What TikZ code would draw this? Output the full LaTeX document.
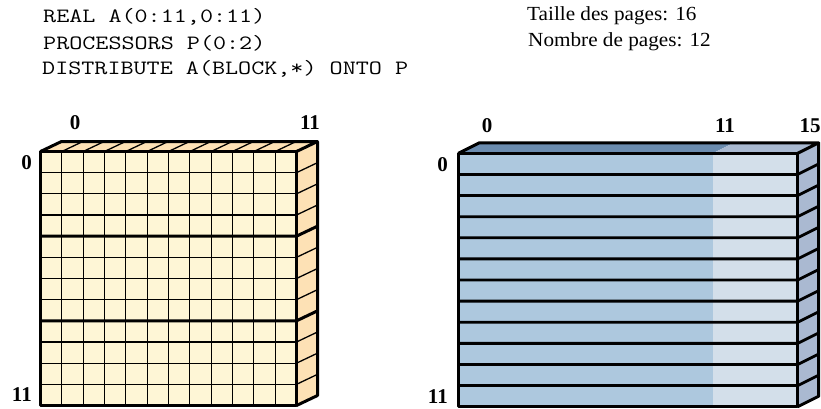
\documentclass[tikz,border=0pt]{standalone}
\usepackage{fontspec}
\setmainfont{Liberation Serif}
\newfontfamily\monof[FakeStretch=1.25]{Latin Modern Mono}
\newfontfamily\serff[FakeStretch=1.06]{Liberation Serif}
\definecolor{cream}{HTML}{FEF6D6}
\definecolor{peach}{HTML}{FDE1B5}
\definecolor{bluedk}{HTML}{ADC8DE}
\definecolor{bluelt}{HTML}{D3DFEA}
\definecolor{topdk}{HTML}{6B8CAF}
\definecolor{toplt}{HTML}{A9B9D1}
\definecolor{sidebl}{HTML}{AAB9D1}
\tikzset{
  outline/.style={line width=3pt, line join=round},
  gridln/.style={line width=1.3pt},
  stripeln/.style={line width=2.8pt},
  codetxt/.style={anchor=west, inner sep=0pt, font=\monof\fontsize{20.3}{22}\selectfont},
  infotxt/.style={anchor=west, inner sep=0pt, font=\serff\fontsize{20}{24}\selectfont},
  idx/.style={inner sep=0pt, font=\bfseries\fontsize{21}{24}\selectfont},
}
\begin{document}
\begin{tikzpicture}[x=1pt,y=-1pt]
\useasboundingbox (0,0) rectangle (821,409);
% ---------- text ----------
\node[codetxt] (c1) at (43,17) {REAL A(0:11,0:11)};
\node[codetxt] (c2) at (43,43) {PROCESSORS P(0:2)};
\node[codetxt] (c3) at (42,69) {DISTRIBUTE A(BLOCK,*) ONTO P};
\node[infotxt] (t1) at (527,16) {Taille des pages: 16};
\node[infotxt] (t2) at (528,42) {Nombre de pages: 12};
% ---------- left cube ----------
\def\Lx{40.5}\def\Rx{296.5}\def\Ty{151.5}\def\By{405.5}
\def\dx{21}\def\dy{-10}
\def\cw{21.3333}\def\ch{21.1667}
\fill[peach] (\Lx,\Ty) -- ++(\dx,\dy) -- (\Rx+\dx,\Ty+\dy) -- (\Rx,\Ty) -- cycle;
\fill[peach] (\Rx,\Ty) -- ++(\dx,\dy) -- (\Rx+\dx,\By+\dy) -- (\Rx,\By) -- cycle;
\fill[cream] (\Lx,\Ty) rectangle (\Rx,\By);
\foreach \i in {1,...,11}{
  \draw[gridln] (\Lx+\i*\cw,\Ty) -- (\Lx+\i*\cw,\By);
  \draw[gridln] (\Lx,\Ty+\i*\ch) -- (\Rx,\Ty+\i*\ch);
  \draw[gridln] (\Lx+\i*\cw,\Ty) -- ++(\dx,\dy);
  \draw[gridln] (\Rx,\Ty+\i*\ch) -- ++(\dx,\dy);
}
\foreach \j in {4,8}{
  \draw[outline] (\Lx,\Ty+\j*\ch) -- (\Rx,\Ty+\j*\ch) -- ++(\dx,\dy);
}
\draw[outline] (\Lx,\Ty) rectangle (\Rx,\By);
\draw[outline] (\Lx,\Ty) -- ++(\dx,\dy) -- (\Rx+\dx,\Ty+\dy) -- (\Rx,\Ty);
\draw[outline] (\Rx+\dx,\Ty+\dy) -- (\Rx+\dx,\By+\dy) -- (\Rx,\By);
\node[idx] (lc0) at (75,123) {0};
\node[idx] (lc11) at (310,123) {11};
\node[idx, anchor=east] (lr0) at (32,163) {0};
\node[idx, anchor=east] (lr11) at (32,395) {11};
% ---------- right cube ----------
\def\LX{458.3}\def\RX{797.7}\def\TY{153.3}\def\BY{406.7}
\def\DX{21}\def\DY{-10.5}
\def\CW{21.2125}\def\CH{21.1167}
\pgfmathsetmacro\XD{\LX+12*\CW}
\fill[topdk] (\LX,\TY) -- ++(\DX,\DY) -- (\XD+\DX,\TY+\DY) -- (\XD,\TY) -- cycle;
\fill[toplt] (\XD,\TY) -- ++(\DX,\DY) -- (\RX+\DX,\TY+\DY) -- (\RX,\TY) -- cycle;
\fill[sidebl] (\RX,\TY) -- ++(\DX,\DY) -- (\RX+\DX,\BY+\DY) -- (\RX,\BY) -- cycle;
\fill[bluedk] (\LX,\TY) rectangle (\XD,\BY);
\fill[bluelt] (\XD,\TY) rectangle (\RX,\BY);
\foreach \i in {1,...,11}{
  \draw[stripeln] (\LX,\TY+\i*\CH) -- (\RX,\TY+\i*\CH) -- ++(\DX,\DY);
}
\draw[outline] (\LX,\TY) rectangle (\RX,\BY);
\draw[outline] (\LX,\TY) -- ++(\DX,\DY) -- (\RX+\DX,\TY+\DY) -- (\RX,\TY);
\draw[outline] (\RX+\DX,\TY+\DY) -- (\RX+\DX,\BY+\DY) -- (\RX,\BY);
\node[idx] (rc0) at (487,126) {0};
\node[idx] (rc11) at (725,126) {11};
\node[idx] (rc15) at (810,126) {15};
\node[idx, anchor=east] (rr0) at (448,165) {0};
\node[idx, anchor=east] (rr11) at (448,397) {11};
\end{tikzpicture}
\end{document}
